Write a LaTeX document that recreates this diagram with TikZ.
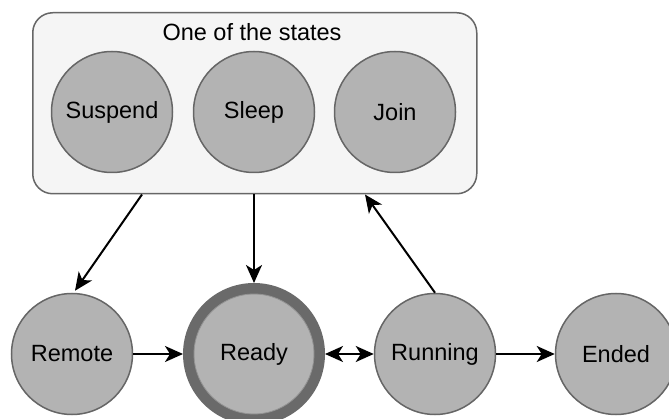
\documentclass[tikz,border=0pt]{standalone}
\usepackage{fontspec}
\setmainfont{Liberation Sans}
\usetikzlibrary{arrows.meta,calc}
\definecolor{statefill}{HTML}{B3B3B3}
\definecolor{stateline}{HTML}{666666}
\definecolor{groupfill}{HTML}{F5F5F5}
\definecolor{ringgray}{HTML}{6A6A6A}
\tikzset{
  state/.style={circle, draw=stateline, fill=statefill, line width=1.5pt,
    minimum size=121pt, inner sep=0pt, font=\fontsize{23.5}{26}\selectfont},
  group/.style={rounded corners=20pt, draw=stateline, fill=groupfill, line width=1.5pt},
  tip/.style={Stealth[length=18pt,width=16pt,inset=5pt]},
  flow/.style={line width=2pt, -{Stealth[length=18pt,width=16pt,inset=5pt]}},
  biflow/.style={line width=2pt, {Stealth[length=18pt,width=16pt,inset=5pt]}-{Stealth[length=18pt,width=16pt,inset=5pt]}}
}
\begin{document}
\begin{tikzpicture}[x=1pt,y=-1pt]
\useasboundingbox (0,0) rectangle (669,419);
\fill[white] (0,0) rectangle (669,419);

% group of blocking states
\node[group, minimum width=444pt, minimum height=181pt, anchor=north west] (box) at (32,12) {};
\node[font=\fontsize{23.5}{26}\selectfont] (title) at (252,32) {One of the states};
\node[state] (suspend) at (112,112) {Suspend};
\node[state] (sleep) at (254,112) {Sleep};
\node[state] (join) at (395,112) {Join};

% main life cycle
\node[state] (remote) at (72,354) {Remote};
\node[circle, draw=ringgray, line width=11pt, fill=statefill, minimum size=131pt,
  inner sep=0pt] (ready) at (254,354) {};
\node[circle, draw=stateline!70, line width=0.8pt, minimum size=120pt, inner sep=0pt,
  font=\fontsize{23.5}{26}\selectfont] (readyin) at (254,354) {Ready};
\node[state] (running) at (435,354) {Running};
\node[state] (ended) at (616,354) {Ended};

% attachment points on the group's lower edge
\coordinate (gs) at ($(box.south west)+(110,0)$);
\coordinate (gr) at ($(box.south west)+(333,0)$);

\draw[flow] (gs) -- ($(remote.north)+(3,-2)$);
\draw[flow] (box.south -| ready) -- (ready.north);
\draw[flow] (running.north) -- (gr);
\draw[flow] (remote) -- (ready);
\draw[biflow] (ready) -- (running);
\draw[flow] (running) -- (ended);
\end{tikzpicture}
\end{document}
